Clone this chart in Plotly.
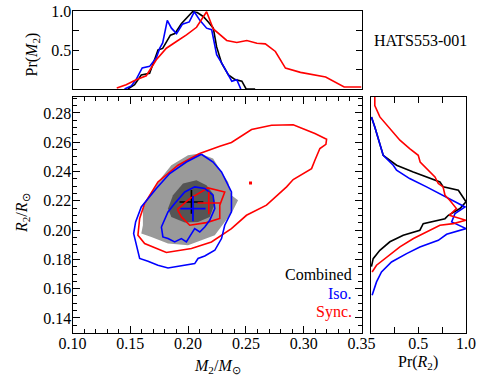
import plotly.graph_objects as go

# ---- top panel: Pr(M2) ----
m2_comb = [0.1479, 0.1537, 0.1595, 0.1667, 0.174, 0.178, 0.1847, 0.1885, 0.1943, 0.1986, 0.2038,
           0.2079, 0.2131, 0.2175, 0.2218, 0.2247, 0.229, 0.2349, 0.2407, 0.2465, 0.2502, 0.258]
pm_comb = [0.0, 0.055, 0.18, 0.20, 0.50, 0.52, 0.69, 0.71, 0.84, 0.91, 0.99,
           0.98, 0.93, 0.86, 0.78, 0.54, 0.33, 0.18, 0.12, 0.10, 0.0, 0.0]
m2_iso = [0.145, 0.1508, 0.155, 0.1603, 0.1667, 0.1725, 0.1754, 0.178, 0.182, 0.1856, 0.19, 0.195,
          0.201, 0.2053, 0.2102, 0.216, 0.2204, 0.2247, 0.23, 0.2349, 0.2378, 0.2421, 0.2456]
pm_iso = [0.0, 0.04, 0.12, 0.27, 0.29, 0.40, 0.52, 0.59, 0.88, 0.78, 0.71, 0.83,
          0.86, 0.99, 0.88, 0.78, 0.76, 0.44, 0.31, 0.18, 0.10, 0.12, 0.0]
m2_sync = [0.1383, 0.1464, 0.1551, 0.1638, 0.1725, 0.1812, 0.1899, 0.1986, 0.2073, 0.216, 0.2218,
           0.2334, 0.2421, 0.2508, 0.2595, 0.2668, 0.2755, 0.2842, 0.2972, 0.3088, 0.319, 0.335, 0.35]
pm_sync = [0.013, 0.055, 0.119, 0.17, 0.374, 0.523, 0.609, 0.694, 0.791, 0.99, 0.77,
           0.622, 0.596, 0.621, 0.587, 0.579, 0.481, 0.268, 0.213, 0.183, 0.153, 0.026, 0.026]

# ---- right panel: Pr(R2) ----
pr_comb = [0.01, 0.045, 0.133, 0.273, 0.448, 0.64, 0.727, 0.762, 0.92, 1.0, 0.937, 0.815, 0.78,
           0.552, 0.517, 0.343, 0.203, 0.098, 0.028, 0.01]
r2_comb = [0.2773, 0.2704, 0.2511, 0.2443, 0.2397, 0.2352, 0.2329, 0.2295, 0.2272, 0.2193, 0.2147,
           0.2101, 0.2078, 0.2044, 0.1999, 0.1965, 0.192, 0.1862, 0.1805, 0.175]
pr_iso = [0.01, 0.045, 0.133, 0.238, 0.273, 0.41, 0.587, 0.762, 0.885, 0.99, 0.885, 0.85, 1.0,
          0.797, 0.71, 0.517, 0.378, 0.22, 0.115, 0.063, 0.017]
r2_iso = [0.2773, 0.2704, 0.2511, 0.2443, 0.2409, 0.2352, 0.2295, 0.2238, 0.2193, 0.2158, 0.2113,
          0.2056, 0.201, 0.1971, 0.193, 0.1885, 0.1839, 0.1782, 0.1714, 0.1646, 0.1555]
pr_sync = [0.045, 0.045, 0.098, 0.185, 0.308, 0.41, 0.5, 0.52, 0.605, 0.675, 0.71, 0.76, 0.78,
           0.83, 0.9, 0.825, 1.0, 0.867, 0.727, 0.62, 0.45, 0.308, 0.168, 0.063, 0.017]
r2_sync = [0.291, 0.285, 0.2773, 0.2704, 0.2614, 0.2557, 0.2511, 0.2465, 0.2409, 0.2363, 0.2318,
           0.2295, 0.2238, 0.2204, 0.2147, 0.2101, 0.2067, 0.2044, 0.2033, 0.1999, 0.1942, 0.1885,
           0.1816, 0.176, 0.1714]

# ---- main panel: contours (M2, R2) ----
light_m2 = [0.2100, 0.2216, 0.2289, 0.2346, 0.2375, 0.2432, 0.2389, 0.2317, 0.2231, 0.2115, 0.1999,
            0.1826, 0.1682, 0.1595, 0.1609, 0.1609, 0.1667, 0.1739, 0.1855, 0.1999]
light_r2 = [0.2523, 0.2489, 0.2397, 0.2329, 0.2238, 0.2204, 0.2135, 0.2056, 0.1965, 0.1931, 0.1896,
            0.1908, 0.1953, 0.1976, 0.2033, 0.2147, 0.2238, 0.2329, 0.2443, 0.2511]
dark_m2 = [0.1956, 0.2072, 0.2159, 0.2216, 0.2231, 0.2187, 0.2086, 0.1971, 0.1855, 0.1826, 0.1869]
dark_r2 = [0.2318, 0.2340, 0.2306, 0.2249, 0.2181, 0.2090, 0.2056, 0.2051, 0.2090, 0.2147, 0.2238]

sync_out_m2 = [0.2100, 0.1913, 0.1739, 0.1624, 0.1581, 0.1566, 0.1624, 0.1812, 0.2029, 0.2202,
               0.2375, 0.2505, 0.2678, 0.2852, 0.2909, 0.3068, 0.3097, 0.3140, 0.3192, 0.3198,
               0.3097, 0.2909, 0.2722, 0.2549, 0.2375, 0.2274, 0.2100]
sync_out_r2 = [0.2523, 0.2443, 0.2329, 0.2181, 0.2079, 0.1965, 0.1908, 0.1847, 0.1874, 0.1919,
               0.2010, 0.2101, 0.2170, 0.2295, 0.2345, 0.2420, 0.2477, 0.2557, 0.2586, 0.2620,
               0.2659, 0.2719, 0.2716, 0.2687, 0.2598, 0.2573, 0.2523]
sync_in_m2 = [0.1907, 0.2014, 0.2172, 0.2317, 0.2274, 0.2274, 0.2159, 0.2014, 0.1942, 0.1907]
sync_in_r2 = [0.2142, 0.2215, 0.2288, 0.2260, 0.2170, 0.2079, 0.2051, 0.2033, 0.2090, 0.2142]

iso_out_m2 = [0.2115, 0.1985, 0.1841, 0.1725, 0.1595, 0.1546, 0.1529, 0.1552, 0.1581, 0.1653,
              0.1739, 0.1826, 0.1927, 0.2057, 0.2086, 0.2144, 0.2231, 0.2289, 0.2317, 0.2375,
              0.2375, 0.2332, 0.2289, 0.2216, 0.2115]
iso_out_r2 = [0.2518, 0.2465, 0.2386, 0.2284, 0.2158, 0.2056, 0.1976, 0.1896, 0.1806, 0.1787,
              0.1760, 0.1741, 0.1755, 0.1771, 0.1806, 0.1823, 0.1862, 0.1942, 0.2033, 0.2124,
              0.2260, 0.2329, 0.2397, 0.2465, 0.2518]
iso_in_m2 = [0.1769, 0.1797, 0.1826, 0.1884, 0.1971, 0.2057, 0.2144, 0.2216, 0.2231, 0.2187,
             0.2144, 0.2101, 0.2057, 0.1985, 0.1942, 0.1884, 0.1826, 0.1782, 0.1769]
iso_in_r2 = [0.2021, 0.2067, 0.2124, 0.2181, 0.2260, 0.2295, 0.2284, 0.2238, 0.2147, 0.2067,
             0.2021, 0.1987, 0.2010, 0.1919, 0.1942, 0.1919, 0.1942, 0.1953, 0.2021]

best_m2 = {'comb': 0.2029, 'iso': 0.2042, 'sync': 0.2179}
best_r2 = {'comb': 0.2192, 'iso': 0.2147, 'sync': 0.2185}
dot_m2, dot_r2 = [0.2540], [0.2322]

FONT = 'Liberation Serif, Times New Roman, Times, serif'
FS = 16
RED, BLUE, BLACK = '#ff0000', '#0000ff', '#000000'
LW = 1.6

fig = go.Figure()

# main panel
fig.add_trace(go.Scatter(x=light_m2, y=light_r2, fill='toself', fillcolor='#9a9a9a',
                         mode='none', xaxis='x', yaxis='y'))
fig.add_trace(go.Scatter(x=dark_m2, y=dark_r2, fill='toself', fillcolor='#555555',
                         mode='none', xaxis='x', yaxis='y'))
fig.add_trace(go.Scatter(x=[best_m2['comb']], y=[best_r2['comb']], mode='markers',
                         marker=dict(symbol='cross-thin', size=17, line=dict(color=BLACK, width=1.6)),
                         xaxis='x', yaxis='y'))
for xs, ys in [(sync_out_m2, sync_out_r2), (sync_in_m2, sync_in_r2)]:
    fig.add_trace(go.Scatter(x=xs, y=ys, mode='lines', line=dict(color=RED, width=LW),
                             xaxis='x', yaxis='y'))
for xs, ys in [(iso_out_m2, iso_out_r2), (iso_in_m2, iso_in_r2)]:
    fig.add_trace(go.Scatter(x=xs, y=ys, mode='lines', line=dict(color=BLUE, width=LW),
                             xaxis='x', yaxis='y'))
fig.add_trace(go.Scatter(x=[best_m2['iso']], y=[best_r2['iso']], mode='markers',
                         marker=dict(symbol='cross-thin', size=18, line=dict(color=BLUE, width=1.8)),
                         xaxis='x', yaxis='y'))
fig.add_trace(go.Scatter(x=[best_m2['sync']], y=[best_r2['sync']], mode='markers',
                         marker=dict(symbol='cross-thin', size=16, line=dict(color=RED, width=1.6)),
                         xaxis='x', yaxis='y'))
fig.add_trace(go.Scatter(x=dot_m2, y=dot_r2, mode='markers',
                         marker=dict(color=RED, size=3, symbol='square'), xaxis='x', yaxis='y'))

# top panel
for xs, ys, c in [(m2_comb, pm_comb, BLACK), (m2_iso, pm_iso, BLUE), (m2_sync, pm_sync, RED)]:
    fig.add_trace(go.Scatter(x=xs, y=ys, mode='lines', line=dict(color=c, width=LW),
                             xaxis='x2', yaxis='y2'))

# right panel
for xs, ys, c in [(pr_comb, r2_comb, BLACK), (pr_iso, r2_iso, BLUE), (pr_sync, r2_sync, RED)]:
    fig.add_trace(go.Scatter(x=xs, y=ys, mode='lines', line=dict(color=c, width=LW),
                             xaxis='x3', yaxis='y3'))

W, H = 491, 392
xd = [72.5 / W, 361.5 / W]
yd_main = [(H - 333) / H, (H - 97) / H]
yd_top = [(H - 89) / H, (H - 11) / H]
xd_right = [370.5 / W, 466 / W]

axis_common = dict(showline=True, linecolor='black', linewidth=1, mirror='allticks',
                   ticks='inside', tickcolor='black', showgrid=False, zeroline=False,
                   automargin=False,
                   tickfont=dict(family=FONT, size=FS, color='black'))
plain_axis = dict(showline=True, linecolor='black', linewidth=1, mirror=True, ticks='',
                  showgrid=False, zeroline=False, showticklabels=False, automargin=False)

fig.update_layout(
    width=W, height=H, margin=dict(l=0, r=0, t=0, b=0),
    plot_bgcolor='white', paper_bgcolor='white', showlegend=False,
    font=dict(family=FONT, color='black'),
    xaxis=dict(domain=xd, anchor='y', range=[0.10, 0.35], dtick=0.05, tick0=0.1,
               tickformat='.2f', ticklen=7, ticklabelstandoff=-4,
               minor=dict(dtick=0.01, ticklen=4, ticks='inside', tickcolor='black'),
               **axis_common),
    yaxis=dict(domain=yd_main, anchor='x', range=[0.1297, 0.2909], dtick=0.02, tick0=0.14,
               tickformat='.2f', ticklen=7, ticklabelstandoff=-3,
               minor=dict(dtick=0.005, ticklen=4, ticks='inside', tickcolor='black'),
               **axis_common),
    xaxis2=dict(domain=xd, anchor='y2', range=[0.10, 0.35], **plain_axis),
    yaxis2=dict(domain=yd_top, anchor='x2', range=[0, 1.0], ticklabelstandoff=-3,
                tickvals=[0.25, 0.5, 0.75, 1.0], ticktext=['', '0.5', '', '1.0'], ticklen=6,
                **axis_common),
    xaxis3=dict(domain=xd_right, anchor='y3', range=[0, 1.0], ticklabelstandoff=-4,
                tickvals=[0.25, 0.5, 0.75, 1.0], ticktext=['', '0.5', '', '1.0'], ticklen=6,
                **axis_common),
    yaxis3=dict(domain=yd_main, anchor='x3', range=[0.1297, 0.2909], **plain_axis),
)

ann = dict(xref='paper', yref='paper', showarrow=False, font=dict(family=FONT, size=FS, color='black'))
fig.add_annotation(text='Pr(<i>M</i><sub>2</sub>)', x=32.5 / W, y=(H - 55) / H, textangle=-90,
                   xanchor='center', yanchor='middle', **ann)
fig.add_annotation(text='<i>R</i><sub>2</sub>/<i>R</i><sub>⊙</sub>', x=22 / W, y=(H - 213) / H,
                   textangle=-90, xanchor='center', yanchor='middle', **ann)
fig.add_annotation(text='<i>M</i><sub>2</sub>/<i>M</i><sub>⊙</sub>', x=217 / W, y=(H - 366) / H,
                   xanchor='center', yanchor='middle', **ann)
fig.add_annotation(text='Pr(<i>R</i><sub>2</sub>)', x=418 / W, y=(H - 362) / H,
                   xanchor='center', yanchor='middle', **ann)
fig.add_annotation(text='HATS553-001', x=372 / W, y=(H - 40) / H, xanchor='left', yanchor='middle', **ann)

for txt, c, yy in [('Combined', BLACK, 274), ('Iso.', BLUE, 293), ('Sync.', RED, 312)]:
    fig.add_annotation(text=txt, x=354 / W, y=(H - yy) / H, xanchor='right', yanchor='middle',
                       xref='paper', yref='paper', showarrow=False,
                       font=dict(family=FONT, size=FS, color=c))

fig.write_html("out.html", config={'displayModeBar': False},
               post_script="document.body.style.margin='0px';")
